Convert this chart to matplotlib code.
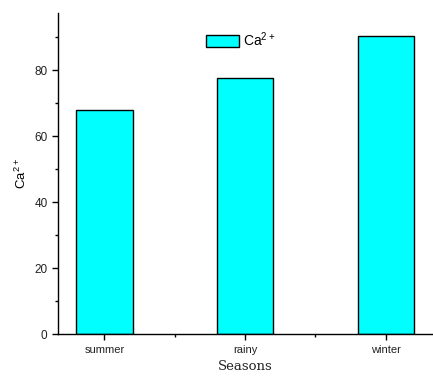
import numpy as np
import matplotlib
matplotlib.use("Agg")
import matplotlib.pyplot as plt
from matplotlib.ticker import MultipleLocator

# Data
seasons = ["summer", "rainy", "winter"]
ca_values = [67.8, 77.7, 90.3]

plt.rcParams["font.family"] = ["Liberation Sans", "DejaVu Sans"]
plt.rcParams["mathtext.fontset"] = "custom"
plt.rcParams["mathtext.rm"] = "Liberation Sans"

fig = plt.figure(figsize=(4.33, 3.81), dpi=100)
ax = fig.add_axes([0.134, 0.123, 0.864, 0.843])

x = np.arange(1, len(seasons) + 1)
ax.bar(x, ca_values, width=0.4, color="#00FFFF", edgecolor="black",
       linewidth=1.0, label="Ca$^{\\mathrm{2+}}$")

ax.set_xlim(0.67, 3.33)
ax.set_ylim(0, 97.3)
ax.set_xticks(x)
ax.set_xticklabels(seasons, fontsize=8, color="#222222")
ax.xaxis.set_minor_locator(MultipleLocator(0.5))
ax.yaxis.set_major_locator(MultipleLocator(20))
ax.yaxis.set_minor_locator(MultipleLocator(10))
ax.tick_params(axis="y", labelsize=8.5, labelcolor="#222222", length=4, width=1)
ax.tick_params(axis="x", length=4, width=1)
ax.tick_params(which="minor", length=2, width=1)

for side in ["top", "right"]:
    ax.spines[side].set_visible(False)
for side in ["left", "bottom"]:
    ax.spines[side].set_linewidth(1.0)

ax.set_ylabel("Ca$^{\\mathrm{2+}}$", fontsize=9.5)
ax.set_xlabel("Seasons", fontsize=9.5, family="DejaVu Serif", color="#222222")

ax.legend(loc="upper left", bbox_to_anchor=(0.361, 0.985), frameon=False,
          fontsize=10, handlelength=2.4, handleheight=0.9, handletextpad=0.3)

fig.savefig("out.png", dpi=100)
